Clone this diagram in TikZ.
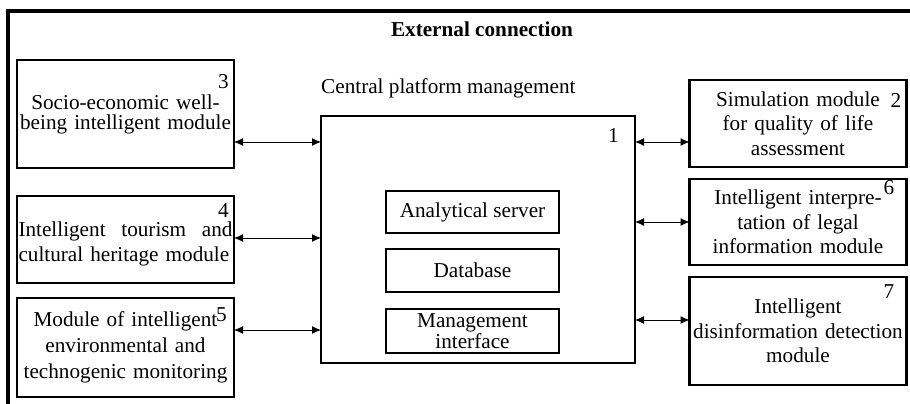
\documentclass[tikz,border=0pt]{standalone}
\usepackage{fontspec}
\setmainfont{Liberation Serif}
\usepackage{tikz}
\usetikzlibrary{arrows.meta,positioning,calc}

\begin{document}
\begin{tikzpicture}[x=1pt, y=-1pt,
    every node/.style={font=\fontsize{21.2pt}{24.5pt}\selectfont},
    modbox/.style={rectangle, draw=black, line width=2.2pt, outer sep=0pt,
      text width=212pt, inner xsep=2.5pt, align=center},
    unitbox/.style={rectangle, draw=black, line width=1.8pt, outer sep=0pt,
      minimum width=173pt, inner sep=0pt, align=center},
    num/.style={anchor=north east, inner sep=0pt},
    link/.style={{Latex[length=9pt,width=8pt]}-{Latex[length=9pt,width=8pt]}, line width=1pt}]

  \useasboundingbox (0,0) rectangle (910,404);

  % outer frame
  \draw[line width=3.2pt] (910,11) -- (8,11) -- (8,404);
  \node[font=\fontsize{21.2pt}{24.5pt}\selectfont\bfseries] (ext) at (482,29) {External connection};

  % Define nodes
  \node[rectangle, draw=black, line width=1.8pt, outer sep=0pt,
    minimum width=314pt, minimum height=247pt] (core) at (478,239.5) {};
  \node[anchor=base west, inner sep=0pt] (coretitle) at ([yshift=23pt]core.north west) {Central platform management};
  \node[num] (n1) at ([xshift=-16pt,yshift=-12pt]core.north east) {1};

  \node[unitbox, minimum height=42pt] (server) at (472.5,212) {Analytical server};
  \node[unitbox, minimum height=43pt, below=16pt of server] (db) {Database};
  \node[unitbox, minimum height=44pt, below=17pt of db,
    font=\fontsize{21.2pt}{19pt}\selectfont] (ui) {Management\\interface};

  % left column
  \node[modbox, minimum height=108pt, font=\fontsize{21.2pt}{20pt}\selectfont] (m3) at (125.5,114)
    {Socio-economic well-\\being intelligent module};
  \node[num] (n3) at ([xshift=-5pt,yshift=-14pt]m3.north east) {3};

  \node[modbox, minimum height=87pt, align=left, text width=214pt, inner xsep=1.5pt,
    below=28pt of m3] (m4)
    {\rule{0pt}{24pt}Intelligent\hfill tourism\hfill and\\cultural heritage module};
  \node[num] (n4) at ([xshift=-5pt,yshift=-7pt]m4.north east) {4};

  \node[modbox, minimum height=99pt, font=\fontsize{21.2pt}{26pt}\selectfont,
    below=15pt of m4] (m5)
    {Module of intelligent\\environmental and\\technogenic monitoring};
  \node[num] (n5) at ([xshift=-7pt,yshift=-9pt]m5.north east) {5};

  % right column
  \node[modbox, minimum height=87pt] (m2) at (798,123.5)
    {Simulation module\\for quality of life\\assessment};
  \node[num] (n2) at ([xshift=-5pt,yshift=-13pt]m2.north east) {2};

  \node[modbox, minimum height=86pt, below=12pt of m2] (m6)
    {Intelligent interpre-\\tation of legal\\information module};
  \node[num] (n6) at ([xshift=-12pt,yshift=-1pt]m6.north east) {6};

  \node[modbox, minimum height=108pt, below=12pt of m6] (m7)
    {Intelligent\\disinformation detection\\module};
  \node[num] (n7) at ([xshift=-12pt,yshift=-7pt]m7.north east) {7};

  % links to the platform
  \draw[link] ([yshift=-28pt]m3.east) -- ([yshift=-28pt]m3.east -| core.west);
  \draw[link] ([yshift=1.5pt]m4.east) -- ([yshift=1.5pt]m4.east -| core.west);
  \draw[link] ([yshift=17.5pt]m5.east) -- ([yshift=17.5pt]m5.east -| core.west);

  \draw[link] ([yshift=-18.5pt]m2.west) -- ([yshift=-18.5pt]m2.west -| core.east);
  \draw[link] (m6.west) -- (m6.west -| core.east);
  \draw[link] ([yshift=11pt]m7.west) -- ([yshift=11pt]m7.west -| core.east);

\end{tikzpicture}
\end{document}
